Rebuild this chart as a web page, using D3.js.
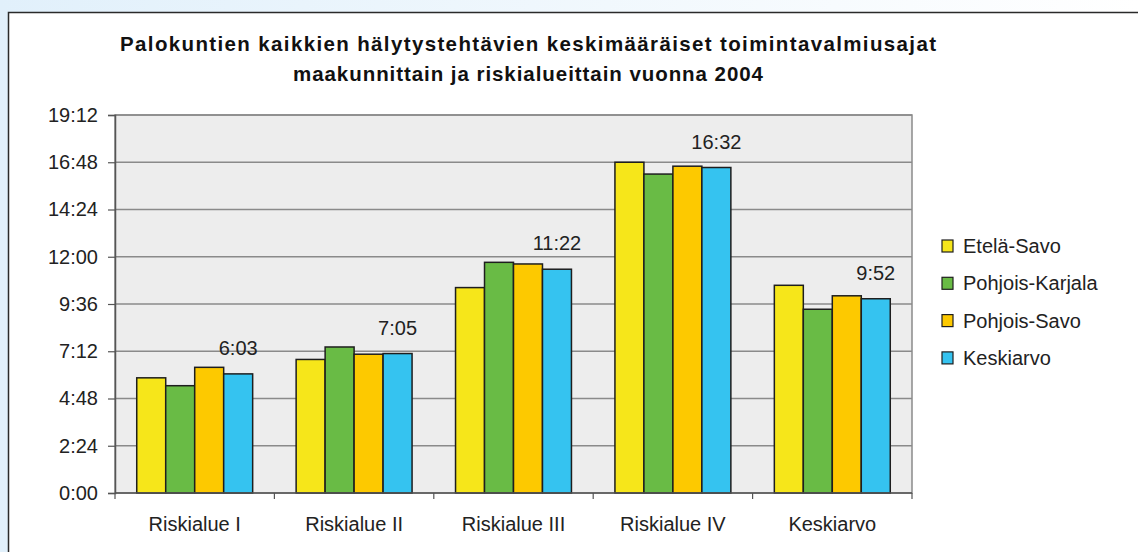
<!DOCTYPE html>
<html>
<head>
<meta charset="utf-8">
<script src="https://cdn.jsdelivr.net/npm/d3@7"></script>
<style>
  html, body { margin: 0; padding: 0; }
  body { width: 1138px; height: 552px; overflow: hidden; font-family: "Liberation Sans", Arial, sans-serif; }
</style>
</head>
<body>
<script>
// chart data, times as m:ss
const categories = ['Riskialue I', 'Riskialue II', 'Riskialue III', 'Riskialue IV', 'Keskiarvo'];
const seriesNames = ['Etelä-Savo', 'Pohjois-Karjala', 'Pohjois-Savo', 'Keskiarvo'];
const etelaSavo = ['5:51', '6:47', '10:26', '16:48', '10:33'];
const pohjoisKarjala = ['5:27', '7:25', '11:43', '16:12', '9:20'];
const pohjoisSavo = ['6:23', '7:03', '11:38', '16:36', '10:01'];
const keskiarvo = ['6:03', '7:05', '11:22', '16:32', '9:52'];
const yTickLabels = ['0:00', '2:24', '4:48', '7:12', '9:36', '12:00', '14:24', '16:48', '19:12'];
const titleLines = [
    'Palokuntien kaikkien hälytystehtävien keskimääräiset toimintavalmiusajat',
    'maakunnittain ja riskialueittain vuonna 2004'
];

const colors = ['#f6e61a', '#69bb45', '#fdc900', '#35c3f0'];
const allSeries = [etelaSavo, pohjoisKarjala, pohjoisSavo, keskiarvo];

// "m:ss" -> seconds
function toSec(s) {
    const p = s.split(':');
    return (+p[0]) * 60 + (+p[1]);
}
function fmt(sec) {
    const m = Math.floor(sec / 60), s = Math.round(sec % 60);
    return m + ':' + (s < 10 ? '0' : '') + s;
}

const W = 1138, H = 552;
const plot = { left: 115, right: 912, top: 115, bottom: 493 };

const svg = d3.select('body').append('svg')
    .attr('width', W)
    .attr('height', H);

// page background + white chart box
const defs = svg.append('defs');
const grad = defs.append('linearGradient').attr('id', 'bg').attr('x1', 0).attr('x2', 1).attr('y1', 0).attr('y2', 0);
grad.append('stop').attr('offset', '0%').attr('stop-color', '#e1f0fb');
grad.append('stop').attr('offset', '100%').attr('stop-color', '#ffffff');
svg.append('rect').attr('width', W).attr('height', H).attr('fill', 'url(#bg)');
svg.append('rect').attr('x', 8).attr('y', 12).attr('width', W - 8).attr('height', H - 12).attr('fill', '#fff');
svg.append('path')
    .attr('d', `M8.5,${H} V12.5 H${W}`)
    .attr('fill', 'none').attr('stroke', '#2a2a2a').attr('stroke-width', 1.5);

// title - the original is spaced out wider than plain Arial bold
svg.append('g').selectAll('text')
    .data(titleLines)
    .enter().append('text')
    .attr('x', 528)
    .attr('y', (d, i) => 51 + i * 30)
    .attr('text-anchor', 'middle')
    .attr('font-size', 20.5)
    .attr('font-weight', 'bold')
    .attr('fill', '#111')
    .attr('textLength', (d, i) => i === 0 ? 816 : 470)
    .attr('lengthAdjust', 'spacing')
    .text(d => d);

// scales
const yTicks = yTickLabels.map(toSec);
const y = d3.scaleLinear()
    .domain([0, d3.max(yTicks)])
    .range([plot.bottom, plot.top]);

const x0 = d3.scaleBand()
    .domain(categories)
    .range([plot.left, plot.right])
    .paddingInner(0);

const x1 = d3.scaleBand()
    .domain(seriesNames)
    .range([0, x0.bandwidth()])
    .paddingInner(0)
    .paddingOuter(0.75);

// plot area
svg.append('rect')
    .attr('x', plot.left).attr('y', plot.top)
    .attr('width', plot.right - plot.left)
    .attr('height', plot.bottom - plot.top)
    .attr('fill', '#ededed')
    .attr('stroke', '#8a8a8a')
    .attr('stroke-width', 1.5);

// gridlines
svg.append('g').selectAll('line')
    .data(yTicks.slice(1))
    .enter().append('line')
    .attr('x1', plot.left).attr('x2', plot.right)
    .attr('y1', d => y(d)).attr('y2', d => y(d))
    .attr('stroke', '#8a8a8a')
    .attr('stroke-width', 1.5);

// bars
const groups = svg.append('g').selectAll('g')
    .data(categories)
    .enter().append('g')
    .attr('transform', d => `translate(${x0(d)},0)`);

groups.selectAll('rect')
    .data((c, ci) => seriesNames.map((s, si) => ({ s, si, v: toSec(allSeries[si][ci]) })))
    .enter().append('rect')
    .attr('x', d => x1(d.s))
    .attr('y', d => y(d.v))
    .attr('width', x1.bandwidth())
    .attr('height', d => y(0) - y(d.v))
    .attr('fill', d => colors[d.si])
    .attr('stroke', '#1e1e1e')
    .attr('stroke-width', 1.5);

// data labels for the average series
svg.append('g').selectAll('text')
    .data(categories)
    .enter().append('text')
    .attr('x', (c) => x0(c) + x1('Keskiarvo') + x1.bandwidth() / 2)
    .attr('y', (c, i) => y(toSec(keskiarvo[i])) - 19)
    .attr('text-anchor', 'middle')
    .attr('font-size', 20)
    .attr('fill', '#222')
    .text((c, i) => keskiarvo[i]);

// y axis
const yAxis = svg.append('g')
    .attr('transform', `translate(${plot.left},0)`)
    .call(d3.axisLeft(y).tickValues(yTicks).tickFormat(fmt).tickSize(7).tickPadding(10));
yAxis.select('.domain').attr('stroke', '#555').attr('stroke-width', 1.5);
yAxis.selectAll('.tick line').attr('stroke', '#555').attr('stroke-width', 1.2);
yAxis.selectAll('.tick text')
    .attr('font-size', 20)
    .attr('font-family', '"Liberation Sans", Arial, sans-serif')
    .attr('fill', '#222');

// x axis: ticks on category boundaries
const xAxis = svg.append('g')
    .attr('transform', `translate(0,${plot.bottom})`);
xAxis.append('line')
    .attr('x1', plot.left).attr('x2', plot.right)
    .attr('stroke', '#555').attr('stroke-width', 1.5);
xAxis.selectAll('line.tk')
    .data(categories.concat(['end']))
    .enter().append('line')
    .attr('class', 'tk')
    .attr('x1', (d, i) => i < categories.length ? x0(d) : plot.right)
    .attr('x2', (d, i) => i < categories.length ? x0(d) : plot.right)
    .attr('y1', 0).attr('y2', 6)
    .attr('stroke', '#555').attr('stroke-width', 1.2);
xAxis.selectAll('text')
    .data(categories)
    .enter().append('text')
    .attr('x', d => x0(d) + x0.bandwidth() / 2)
    .attr('y', 38)
    .attr('text-anchor', 'middle')
    .attr('font-size', 20)
    .attr('fill', '#222')
    .text(d => d);

// legend
const legend = svg.append('g').attr('transform', 'translate(942,246)');
const item = legend.selectAll('g')
    .data(seriesNames)
    .enter().append('g')
    .attr('transform', (d, i) => `translate(0,${i * 37.3})`);
item.append('rect')
    .attr('x', 0).attr('y', -6)
    .attr('width', 11).attr('height', 12)
    .attr('fill', (d, i) => colors[i])
    .attr('stroke', '#1e1e1e')
    .attr('stroke-width', 1.2);
item.append('text')
    .attr('x', 21)
    .attr('y', 7)
    .attr('font-size', 20)
    .attr('fill', '#222')
    .text(d => d);
</script>
</body>
</html>
